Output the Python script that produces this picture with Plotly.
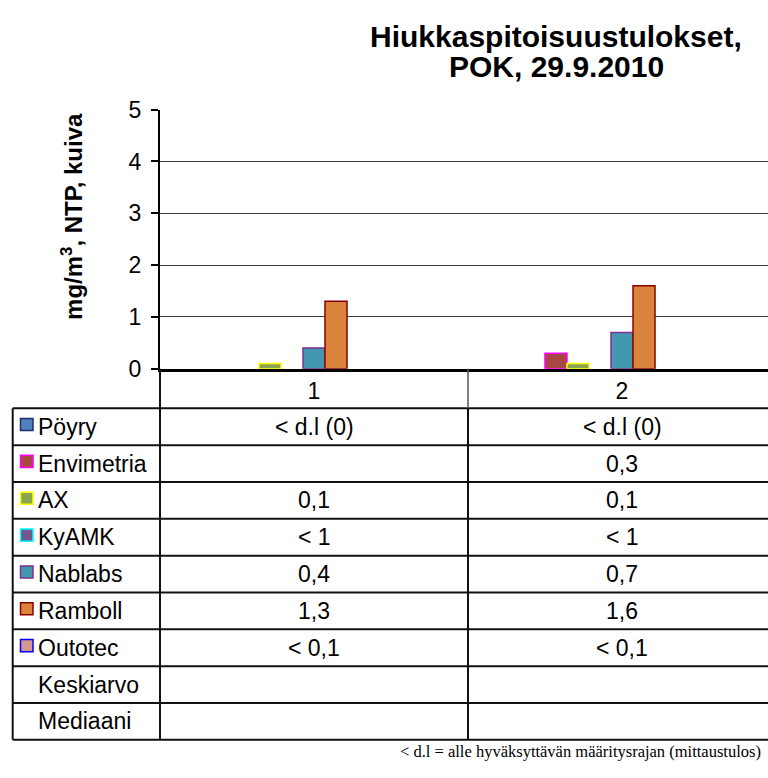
import plotly.graph_objects as go

W, H = 768, 778

# ---------------- data ----------------
categories = ["1", "2"]
series_names = ["Pöyry", "Envimetria", "AX", "KyAMK", "Nablabs", "Ramboll",
                "Outotec", "Keskiarvo", "Mediaani"]
poyry = [0, 0]
envimetria = [None, 0.3]
ax_vals = [0.1, 0.1]
kyamk = [None, None]
nablabs = [0.4, 0.7]
ramboll = [1.3, 1.6]
outotec = [None, None]
keskiarvo = [None, None]
mediaani = [None, None]

table_poyry = ["< d.l (0)", "< d.l (0)"]
table_envimetria = ["", "0,3"]
table_ax = ["0,1", "0,1"]
table_kyamk = ["< 1", "< 1"]
table_nablabs = ["0,4", "0,7"]
table_ramboll = ["1,3", "1,6"]
table_outotec = ["< 0,1", "< 0,1"]
table_keskiarvo = ["", ""]
table_mediaani = ["", ""]

y_ticks = [0, 1, 2, 3, 4, 5]
title_lines = ["Hiukkaspitoisuustulokset,", "POK, 29.9.2010"]
y_title = "mg/m<sup>3</sup>, NTP, kuiva"
footnote = "< d.l = alle hyväksyttävän määritysrajan (mittaustulos)"

# ---------------- styles ----------------
fill_colors = ["#4F81BD", "#AA4643", "#89A54E", "#71588F", "#4198AF",
               "#DB843D", "#D39693", None, None]
line_colors = ["#1F2F6F", "#FF00FF", "#FFFF00", "#00FFFF", "#7F2F8F",
               "#8B0000", "#0000FF", None, None]
bar_line_widths = [0, 1.5, 1.5, 1.5, 1.5, 1.5, 1.5, 0, 0]

values = [poyry, envimetria, ax_vals, kyamk, nablabs, ramboll, outotec,
          keskiarvo, mediaani]
table_rows = [table_poyry, table_envimetria, table_ax, table_kyamk,
              table_nablabs, table_ramboll, table_outotec, table_keskiarvo,
              table_mediaani]

FONT = "Liberation Sans, Arial, sans-serif"
FS = 23


def px(x):
    return x / W


def py(y):
    return 1 - y / H


plot_left, plot_top, plot_bottom = 160, 100, 368
cat_px = 308.0
x_end = -0.5 + (W - plot_left) / cat_px

fig = go.Figure()
for name, vals, fc, lc, lw in zip(series_names, values, fill_colors,
                                  line_colors, bar_line_widths):
    fig.add_trace(go.Bar(
        x=categories, y=vals, name=name,
        marker=dict(color=fc if fc else "rgba(0,0,0,0)",
                    line=dict(color=lc if lc else "rgba(0,0,0,0)", width=lw)),
        showlegend=False, hoverinfo="skip"))

fig.update_layout(
    width=W, height=H,
    margin=dict(l=0, r=0, t=0, b=0),
    paper_bgcolor="white", plot_bgcolor="white",
    barmode="group", bargap=0.357, bargroupgap=0,
    font=dict(family=FONT, color="black", size=FS),
    xaxis=dict(domain=[px(plot_left), 1], type="category",
               range=[-0.5, x_end], showgrid=False, zeroline=False,
               showline=True, linecolor="black", linewidth=3,
               ticks="", tickfont=dict(size=FS, family=FONT),
               ticklabelstandoff=0, fixedrange=True),
    yaxis=dict(domain=[py(plot_bottom), py(plot_top)], range=[0, 5],
               tickvals=y_ticks, showgrid=True, gridcolor="#3a3a3a",
               gridwidth=1, zeroline=False, showline=True,
               linecolor="black", linewidth=2, ticks="outside",
               ticklen=7, tickwidth=1.5, tickcolor="black",
               tickfont=dict(size=FS, family=FONT),
               ticklabelstandoff=5, fixedrange=True),
)

shapes = []
annotations = []

# title
annotations.append(dict(text="<b>%s</b>" % title_lines[0], x=px(556), y=py(24),
                        xref="paper", yref="paper", showarrow=False,
                        xanchor="center", yanchor="middle",
                        font=dict(size=30, family=FONT)))
annotations.append(dict(text="<b>%s</b>" % title_lines[1], x=px(556), y=py(55),
                        xref="paper", yref="paper", showarrow=False,
                        xanchor="center", yanchor="middle",
                        font=dict(size=30, family=FONT)))
# y title
annotations.append(dict(text="<b>%s</b>" % y_title, x=px(72), y=py(211),
                        xref="paper", yref="paper", showarrow=False,
                        textangle=-90, xanchor="center", yanchor="middle",
                        font=dict(size=24, family=FONT)))

# table geometry
tbl_left = 12.7
header_bottom = 409
row_h = (752 - 409) / 9.0
line_col = "#111111"

# horizontal lines
for i in range(len(series_names) + 1):
    yy = header_bottom + i * row_h
    shapes.append(dict(type="line", xref="paper", yref="paper",
                       x0=px(tbl_left), x1=1, y0=py(yy), y1=py(yy),
                       line=dict(color=line_col, width=2)))
# vertical lines
shapes.append(dict(type="line", xref="paper", yref="paper",
                   x0=px(tbl_left), x1=px(tbl_left),
                   y0=py(header_bottom), y1=py(752),
                   line=dict(color=line_col, width=2)))
shapes.append(dict(type="line", xref="paper", yref="paper",
                   x0=px(plot_left), x1=px(plot_left),
                   y0=py(plot_bottom), y1=py(752),
                   line=dict(color=line_col, width=2)))
shapes.append(dict(type="line", xref="x", yref="paper",
                   x0=0.5, x1=0.5, y0=py(plot_bottom), y1=py(header_bottom),
                   line=dict(color="#555555", width=1.5)))
shapes.append(dict(type="line", xref="x", yref="paper",
                   x0=0.5, x1=0.5, y0=py(header_bottom), y1=py(752),
                   line=dict(color=line_col, width=2)))

# rows: legend key, name, values
for i, (name, row, fc, lc) in enumerate(zip(series_names, table_rows,
                                            fill_colors, line_colors)):
    yc = header_bottom + (i + 0.5) * row_h
    if fc:
        shapes.append(dict(type="rect", xref="paper", yref="paper",
                           x0=px(20.5), x1=px(33), y0=py(yc - 8.5), y1=py(yc + 4),
                           fillcolor=fc, line=dict(color=lc, width=1.5)))
    annotations.append(dict(text=name, x=px(36), y=py(yc), xref="paper",
                            yref="paper", showarrow=False, xanchor="left",
                            yanchor="middle", font=dict(size=FS, family=FONT)))
    for ci, txt in enumerate(row):
        if txt:
            annotations.append(dict(text=txt, x=ci, y=py(yc), xref="x",
                                    yref="paper", showarrow=False,
                                    xanchor="center", yanchor="middle",
                                    font=dict(size=FS, family=FONT)))

# footnote
annotations.append(dict(text=footnote, x=px(763), y=py(764), xref="paper",
                        yref="paper", showarrow=False, xanchor="right",
                        yanchor="middle",
                        font=dict(size=16.5, family="Liberation Serif, Times New Roman, serif")))

fig.update_layout(shapes=shapes, annotations=annotations)
fig.write_html("out.html", config={"displayModeBar": False},
               post_script="document.body.style.margin='0';document.body.style.padding='0';")
